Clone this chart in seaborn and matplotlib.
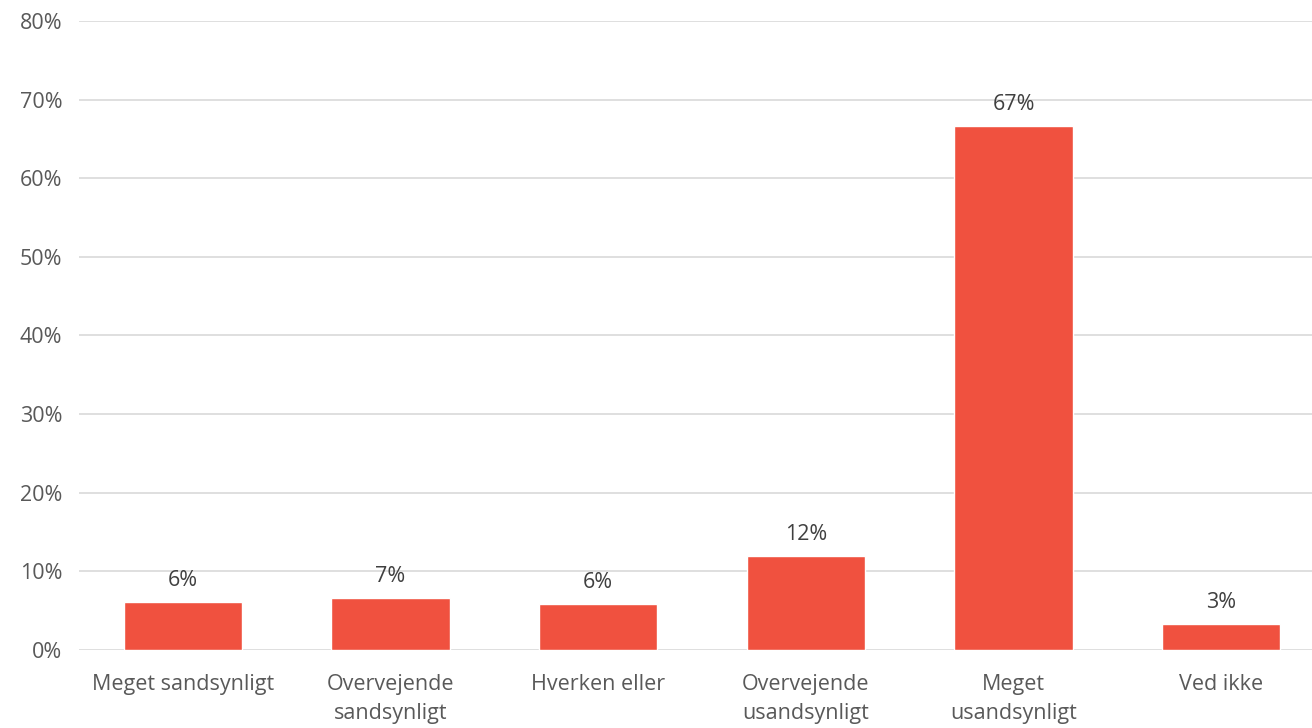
import numpy as np
import pandas as pd
import seaborn as sns
import matplotlib.pyplot as plt

categories = ["Meget sandsynligt", "Overvejende\nsandsynligt", "Hverken eller",
              "Overvejende\nusandsynligt", "Meget\nusandsynligt", "Ved ikke"]
values = [6.1, 6.6, 5.8, 11.9, 66.6, 3.3]
labels = ["6%", "7%", "6%", "12%", "67%", "3%"]
yticks = [0, 10, 20, 30, 40, 50, 60, 70, 80]

df = pd.DataFrame({"cat": categories, "val": values})

sns.set_theme(style="white")
plt.rcParams["font.family"] = ["Open Sans", "DejaVu Sans"]

fig = plt.figure(figsize=(13.12, 7.28), dpi=100)
ax = fig.add_axes([0.0602, 0.1071, 0.9398, 0.8641])
sns.barplot(data=df, x="cat", y="val", color="#F0513F", saturation=1,
            width=0.57, ax=ax)

for i, (v, lab) in enumerate(zip(values, labels)):
    ax.annotate(lab, (i, v), xytext=(0, 8), textcoords="offset points",
                ha="center", va="bottom", fontsize=15.5, color="#404040")

ax.set_ylim(0, 80)
ax.set_xlim(-0.5, 5.437)
ax.set_yticks(yticks)
ax.set_yticklabels([f"{t}%" for t in yticks])
ax.yaxis.grid(True, color="#D9D9D9", linewidth=1.2)
ax.set_axisbelow(True)
for s in ax.spines.values():
    s.set_visible(False)
ax.tick_params(axis="both", length=0, labelsize=15.5, colors="#595959")
ax.tick_params(axis="y", pad=12)
ax.tick_params(axis="x", pad=17)
for t in ax.get_xticklabels():
    t.set_linespacing(1.5)
ax.set_xlabel("")
ax.set_ylabel("")

plt.savefig("out.png", dpi=100)
